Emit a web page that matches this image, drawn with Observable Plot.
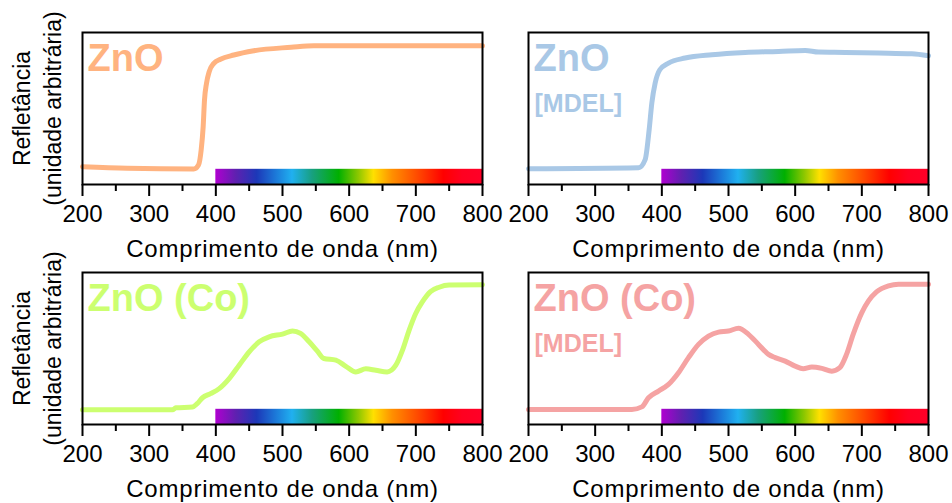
<!DOCTYPE html>
<html><head><meta charset="utf-8">
<script src="https://cdn.jsdelivr.net/npm/d3@7"></script>
<script src="https://cdn.jsdelivr.net/npm/@observablehq/plot@0.6"></script>
<style>
body{margin:0;background:#fff;}
#root{position:relative;width:952px;height:503px;overflow:hidden;font-family:"Liberation Sans",Arial,sans-serif;}
#root svg{position:absolute;overflow:visible;}
</style></head><body><div id="root"></div>
<script>
// ---- data (reflectance in arbitrary units, frame = 0..100) ----
const wlZnO   = [200,267,367,374,378,381,383,386,390,397,407,427,457,513,547,800];
const rZnO    = [11.7,10.7,10.2,12.8,22.7,38,55.6,66.6,74.2,79.7,82.4,85.2,88,90.3,91.3,91.3];

const wlZnOM  = [200,365,375,381,385,390,397,410,435,475,525,575,615,635,675,725,775,800];
const rZnOM   = [10.3,11,16.4,36.1,53.6,66.8,75.5,79.9,83.2,85.4,86.9,87.5,88.2,87.1,86.9,86.5,86,84.7];

const wlZnOCo = [200,335,340,365,372,380,392,405,420,435,450,465,480,500,515,527,540,552,562,580,595,610,625,640,657,670,680,690,700,710,722,735,750,800];
const rZnOCo  = [9.7,9.7,11,11.5,13.7,17.6,20.3,23.6,30.2,39,47.8,54.4,57.7,59.5,61.5,59.9,54.4,48.4,43.4,42.3,38.3,34.6,36.6,35.7,34.6,39,48.9,62.1,73.2,80.8,87.4,90.3,91.7,91.9];

const wlZnOCoM = [200,355,370,380,395,410,425,440,455,470,485,500,515,530,545,560,570,585,600,612,625,640,655,667,677,687,700,710,722,740,755,800];
const rZnOCoM  = [9.9,9.9,11.6,17.6,22,26.4,34.1,44,52.7,58.2,60.8,61.5,63.3,59.3,52.7,46.1,44,41.7,38.4,36.7,37.8,36.9,35.1,37.4,46.1,59.3,73.6,81.3,87.2,91.2,92.3,92.3];

const titles   = ["ZnO","ZnO","ZnO (Co)","ZnO (Co)"];
const subtitles = ["","[MDEL]","","[MDEL]"];
const colors   = ["#FFB380","#A9C8E6","#CCFF70","#F5A3A3"];
const xLabel   = "Comprimento de onda (nm)";
const yLabel1  = "Refletância";
const yLabel2  = "(unidade arbitrária)";
const majorTicks = [200,300,400,500,600,700,800];
const minorTicks = [250,350,450,550,650,750];
const spectrumRange = [400, 800];
const spectrumHeight = [0, 10];
const spectrumStops = [400,430,462,490,515,545,585,615,637,665,700,742,770,800];
const spectrumColors = ["#b000d0","#6020b0","#1c38b8","#1c78d8","#20b0f0","#18a080","#00b000","#90c800","#ffe000","#ff9000","#ff5000","#ff0000","#ff0020","#ff0028"];

const series = [[wlZnO,rZnO],[wlZnOM,rZnOM],[wlZnOCo,rZnOCo],[wlZnOCoM,rZnOCoM]];
const positions = [[0,0],[446,0],[0,240],[446,240]];

const root = document.getElementById("root");
const font = '"Liberation Sans", Arial, sans-serif';

series.forEach(([wl, r], i) => {
  const data = wl.map((w, k) => ({w, r: r[k]}));
  const left = i % 2 === 0;
  const marks = [
    Plot.rect([spectrumRange], {x1: d => d[0], x2: d => d[1], y1: spectrumHeight[0], y2: spectrumHeight[1], fill: `url(#spec${i})`}),
    Plot.line(data, {x: d => d.w, y: d => d.r, stroke: colors[i], strokeWidth: 5, strokeLinejoin: "round", strokeLinecap: "round", curve: "monotone-x"}),
    Plot.frame({stroke: "black", strokeWidth: 2}),
    Plot.axisX({ticks: minorTicks, tickSize: 7, strokeWidth: 2, tickFormat: () => "", label: null}),
    Plot.axisX({ticks: majorTicks, tickSize: 12, tickPadding: 8, strokeWidth: 2, tickFormat: d3.format("d"), fontSize: 24, fill: "black", label: null}),
    Plot.text([xLabel], {text: d => d, frameAnchor: "bottom", dy: 55, lineAnchor: "top", textAnchor: "middle", fontSize: 24, fill: "black"}),
    Plot.text([titles[i]], {text: d => d, frameAnchor: "top-left", dx: 5, dy: 12, lineAnchor: "top", textAnchor: "start", fontSize: 38, fontWeight: "bold", fill: colors[i]})
  ];
  if (subtitles[i]) marks.push(Plot.text([subtitles[i]], {text: d => d, frameAnchor: "top-left", dx: 6, dy: 62, lineAnchor: "top", textAnchor: "start", fontSize: 25, fontWeight: "bold", fill: colors[i]}));
  if (left) {
    marks.push(Plot.text([yLabel1], {text: d => d, frameAnchor: "left", rotate: -90, dx: -60, textAnchor: "middle", lineAnchor: "middle", fontSize: 23, fill: "black"}));
    marks.push(Plot.text([yLabel2], {text: d => d, frameAnchor: "left", rotate: -90, dx: -29, textAnchor: "middle", lineAnchor: "middle", fontSize: 23, fill: "black"}));
  }
  const svg = Plot.plot({
    width: 500, height: 270,
    marginLeft: 82, marginRight: 18, marginTop: 32, marginBottom: 86,
    x: {domain: [200, 800], label: null},
    y: {domain: [0, 100], axis: null, label: null},
    style: {background: "transparent", fontFamily: font, fontSize: "24px", overflow: "visible", color: "black"},
    marks
  });
  const defs = d3.select(svg).insert("defs", ":first-child");
  const g = defs.append("linearGradient").attr("id", `spec${i}`).attr("x1", "0").attr("x2", "1").attr("y1", "0").attr("y2", "0");
  spectrumStops.forEach((s, k) => {
    g.append("stop").attr("offset", (s - spectrumRange[0]) / (spectrumRange[1] - spectrumRange[0])).attr("stop-color", spectrumColors[k]);
  });
  d3.select(svg).selectAll("text").filter(function() { return this.textContent === xLabel; }).style("letter-spacing", "0.8px");
  svg.style.left = positions[i][0] + "px";
  svg.style.top = positions[i][1] + "px";
  root.appendChild(svg);
});
</script>
</body></html>
